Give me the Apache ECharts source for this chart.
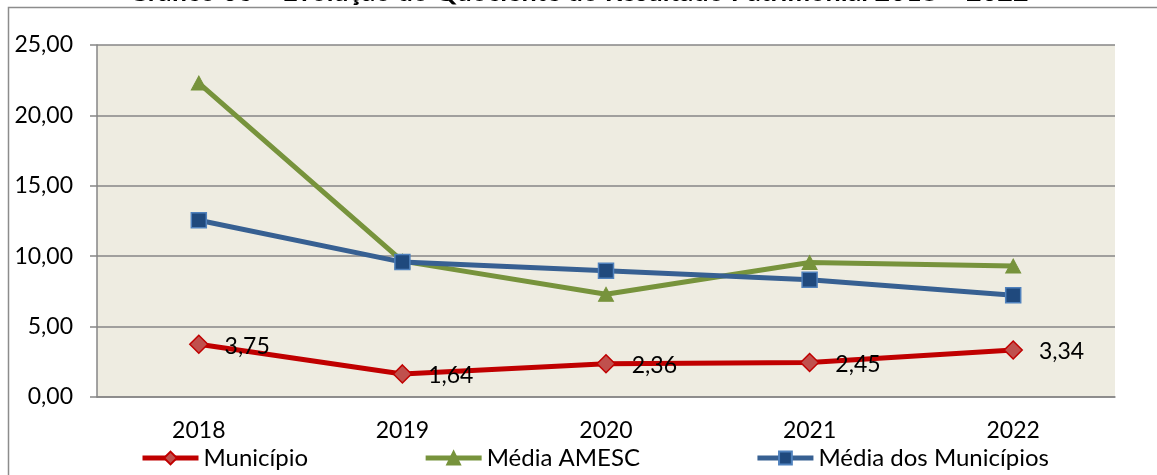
<!DOCTYPE html>
<html lang="pt">
<head>
	<meta charset="UTF-8">
	<title>Gráfico 06</title>
	<script src="https://cdn.jsdelivr.net/npm/echarts@6/dist/echarts.min.js"></script>
	<style>
		html, body { margin: 0; padding: 0; background: #fff; }
	</style>
</head>
<body>
	<div id="main" style="width: 1157px;height: 475px"></div>
	<script>
	var anos = ['2018', '2019', '2020', '2021', '2022'];
	var municipio = [3.75, 1.64, 2.36, 2.45, 3.34];
	var mediaAmesc = [22.3, 9.65, 7.3, 9.55, 9.3];
	var mediaMunicipios = [12.55, 9.58, 8.97, 8.33, 7.22];
	var yTicks = { min: 0, max: 25, interval: 5 };

	function br(v) {
		return Number(v).toFixed(2).replace('.', ',');
	}

	var fonte = 'Lato, "Open Sans", sans-serif';

	var option = {
		backgroundColor: '#FFFFFF',
		textStyle: { fontFamily: fonte },
		title: {
			text: 'Gráfico 06 – Evolução do Quociente do Resultado Patrimonial 2018 – 2022',
			left: 'center',
			top: -26,
			textStyle: { fontSize: 27, fontWeight: 'bold', color: '#000', fontFamily: fonte }
		},
		graphic: [{
			type: 'rect',
			shape: { x: 8.5, y: 7.5, width: 1200, height: 600 },
			style: { fill: 'none', stroke: '#8c8c8c', lineWidth: 1.5 },
			silent: true,
			z: -1
		}],
		grid: {
			left: 97, right: 42, top: 45, bottom: 78,
			show: true,
			backgroundColor: '#EEECE1',
			borderWidth: 0
		},
		legend: {
			top: 441,
			left: 135,
			itemWidth: 56,
			itemHeight: 16,
			itemGap: 115,
			lineStyle: { width: 5 },
			textStyle: { fontSize: 24, color: '#000', fontFamily: fonte },
			data: ['Município', 'Média AMESC', 'Média dos Municípios']
		},
		xAxis: {
			type: 'category',
			data: anos,
			boundaryGap: true,
			axisLine: { lineStyle: { color: '#868686', width: 1.5 } },
			axisTick: { show: false },
			axisLabel: { fontSize: 23, color: '#000', margin: 22, fontFamily: fonte },
			splitLine: { show: false }
		},
		yAxis: {
			type: 'value',
			min: yTicks.min,
			max: yTicks.max,
			interval: yTicks.interval,
			axisLine: { show: true, lineStyle: { color: '#868686', width: 1.5 } },
			axisTick: { show: true, length: 7, lineStyle: { color: '#868686', width: 1.5 } },
			axisLabel: { fontSize: 23, color: '#000', margin: 24, formatter: br, fontFamily: fonte },
			splitLine: { lineStyle: { color: '#868686', width: 1.5 } }
		},
		series: [{
			name: 'Município',
			type: 'line',
			data: municipio,
			symbol: 'diamond',
			symbolSize: 18,
			z: 4,
			lineStyle: { color: '#C00000', width: 5 },
			itemStyle: { color: '#C0504D', borderColor: '#C00000', borderWidth: 1.5 },
			label: {
				show: true,
				position: 'right',
				distance: 16,
				offset: [0, 2],
				fontSize: 23,
				color: '#000',
				fontFamily: fonte,
				formatter: function (p) { return br(p.value); }
			}
		}, {
			name: 'Média AMESC',
			type: 'line',
			data: mediaAmesc,
			symbol: 'triangle',
			symbolSize: [15, 14],
			z: 2,
			lineStyle: { color: '#77933C', width: 5 },
			itemStyle: { color: '#77933C', borderColor: '#77933C', borderWidth: 1 }
		}, {
			name: 'Média dos Municípios',
			type: 'line',
			data: mediaMunicipios,
			symbol: 'rect',
			symbolSize: 15,
			z: 3,
			lineStyle: { color: '#376092', width: 5 },
			itemStyle: { color: '#1F497D', borderColor: '#4F81BD', borderWidth: 1.5 }
		}]
	};

	var myChart = echarts.init(document.getElementById('main'));
	myChart.setOption(option);
	</script>
</body>
</html>
